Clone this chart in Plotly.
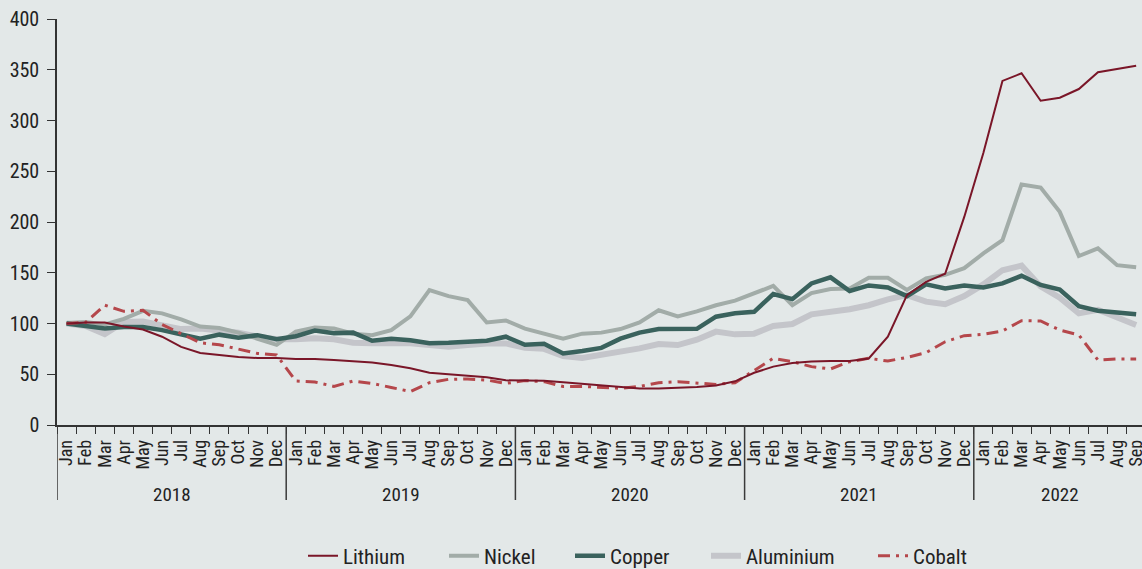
import plotly.graph_objects as go

years = ["2018", "2019", "2020", "2021", "2022"]
month_names = ["Jan", "Feb", "Mar", "Apr", "May", "Jun", "Jul", "Aug", "Sep", "Oct", "Nov", "Dec"]
months_per_year = [12, 12, 12, 12, 9]

lithium = [100, 101, 101, 97, 94, 87, 77, 71, 69, 67, 66, 66,
           65, 65, 64, 63, 61.5, 59, 56, 51.5, 50, 49, 47, 44,
           43.5, 43.5, 42, 40.5, 39, 37, 36, 36, 36.5, 37.5, 39, 43,
           51.5, 57.5, 61, 62.5, 63, 63, 65.5, 87, 128, 141, 149, 205,
           268, 339, 346.5, 319.5, 322.5, 331, 347.5, 351, 354]
nickel = [100.5, 101.5, 99, 104.5, 112.5, 110, 104, 97, 95.5, 91, 85, 79,
          92, 96, 95, 90, 88.5, 93.5, 107, 133, 127, 123, 101, 103,
          95, 90, 85, 90, 91, 94.5, 101, 113, 107, 112, 118, 122.5,
          130, 137, 118, 130, 134, 134.5, 145, 145, 133, 144.5, 148, 154.5,
          169, 182, 237, 234, 210, 166.5, 174, 157.5, 155.5]
copper = [100, 97.5, 95, 96.5, 96.5, 93.5, 89, 85, 89, 86, 88.5, 84.5,
          87.5, 93, 90.5, 91, 83, 85, 83.5, 80.5, 81, 82, 83, 87,
          79, 80, 70.5, 73, 76, 85, 91, 94.5, 94.3, 94.8, 106.7, 110,
          111.5, 129, 124, 139.5, 145.5, 132, 137.5, 135.5, 127, 138.5, 134.5, 137.5,
          135.5, 139.5, 147, 138, 133.5, 117, 112.5, 111, 109]
aluminium = [100, 97.5, 89.5, 101.5, 102, 98, 94.5, 95, 93.5, 91, 87, 84.5,
             84.5, 85.5, 84.5, 81, 80.5, 80.5, 80.5, 78.8, 77, 78.8, 80.4, 80.4,
             76, 75, 68, 66, 69, 72.3, 75.5, 79.8, 78.8, 84, 92, 89.3,
             90, 97.5, 99.5, 109, 111.5, 114, 118, 123.8, 128, 121.5, 119, 127,
             138.5, 152.5, 157, 136.5, 125.5, 110, 113.5, 106.5, 98.5]
cobalt = [100, 101, 118, 112, 113, 99, 90, 81, 79, 74.5, 70.5, 69,
          43.3, 42.4, 38, 43.3, 41, 37, 33, 41.7, 45, 45.3, 44.3, 41,
          43.7, 42.7, 38, 38, 37.3, 36.1, 38, 41.7, 42.7, 41, 40, 41.7,
          54, 65.7, 62.4, 57.5, 55.2, 62.4, 65.7, 63, 66.6, 71.2, 82, 88,
          89.3, 92.6, 102.8, 102.5, 93.6, 88.7, 64, 65, 65]

y_ticks = [0, 50, 100, 150, 200, 250, 300, 350, 400]

# month index axis
labels = []
year_of = []
for y, n in zip(years, months_per_year):
    labels += month_names[:n]
    year_of += [y] * n
x = list(range(len(labels)))

BG = "#E3E8E8"
NARROW = "Liberation Sans Narrow, Arial Narrow, Roboto Condensed, DejaVu Sans Condensed, Liberation Sans, sans-serif"
TXT = "#222222"

fig = go.Figure()

series = [
    # name, data, color, width, dash, legend id
    ("Aluminium", aluminium, "#C4C5CA", 6, "solid", "legend4"),
    ("Nickel", nickel, "#A2ACA8", 4, "solid", "legend2"),
    ("Copper", copper, "#3A625D", 4.5, "solid", "legend3"),
    ("Cobalt", cobalt, "#B5474B", 3, "12px,6px,3px,6px", "legend5"),
    ("Lithium", lithium, "#7A1628", 2, "solid", "legend"),
]
for name, data, color, w, dash, lg in series:
    fig.add_trace(go.Scatter(x=x, y=data, mode="lines", name=name,
                             line=dict(color=color, width=w, dash=dash),
                             legend=lg, hoverinfo="skip"))

PLOT_L, PLOT_R, PLOT_T, PLOT_B = 57, 0, 19, 144
W, H = 1142, 569
plot_w = W - PLOT_L - PLOT_R
plot_h = H - PLOT_T - PLOT_B
band = 19.1
x_max = -0.5 + plot_w / band

# year separators and labels
start = 0
for y, n in zip(years, months_per_year):
    fig.add_shape(type="line", xref="x", yref="paper", x0=start - 0.5, x1=start - 0.5,
                  y0=0, y1=-75 / plot_h, line=dict(color="#3a3a3a", width=1.5))
    fig.add_annotation(xref="x", yref="paper", x=start + (n - 1) / 2, y=-69 / plot_h,
                       text=y, showarrow=False, yanchor="middle",
                       font=dict(family=NARROW, size=19, color=TXT))
    start += n

leg_font = dict(family=NARROW, size=21, color=TXT)
text_starts = {"legend": 343, "legend2": 484, "legend3": 610, "legend4": 746, "legend5": 913}
legends = {}
for k, px in text_starts.items():
    legends[k] = dict(orientation="h", x=(px - 40 - PLOT_L) / plot_w, xanchor="left",
                      y=-(556 - (H - PLOT_B)) / plot_h, yanchor="middle",
                      bgcolor="rgba(0,0,0,0)", font=leg_font, borderwidth=0)

fig.update_layout(
    width=W, height=H,
    margin=dict(l=PLOT_L, r=PLOT_R, t=PLOT_T, b=PLOT_B, pad=0, autoexpand=False),
    paper_bgcolor=BG, plot_bgcolor=BG,
    showlegend=True,
    **legends,
    xaxis=dict(range=[-0.5, x_max], tickmode="array", tickvals=x, ticktext=labels,
               tickangle=-90, ticks="", showgrid=False, zeroline=False,
               showline=True, linecolor="#333333", linewidth=1.5, automargin=False,
               tickfont=dict(family=NARROW, size=18, color=TXT),
               ticklabelstandoff=6, ticklabeloverflow="allow",
               minor=dict(tickmode="array", tickvals=[i - 0.5 for i in x] + [len(x) - 0.5],
                          ticks="outside", ticklen=7, tickcolor="#333333", tickwidth=1.2,
                          showgrid=False)),
    yaxis=dict(range=[0, 400], tickmode="array", tickvals=y_ticks, ticks="outside",
               ticklen=8, tickcolor="#333333", tickwidth=1.2, showgrid=False, zeroline=False,
               showline=True, linecolor="#333333", linewidth=1.5, automargin=False,
               tickfont=dict(family=NARROW, size=20, color=TXT), ticklabelstandoff=4),
)

fig.write_html("out.html", config={"displayModeBar": False},
               post_script="document.body.style.margin='0';document.body.style.padding='0';"
                           "document.body.style.overflow='hidden';"
                           "document.body.style.background='" + BG + "';")
